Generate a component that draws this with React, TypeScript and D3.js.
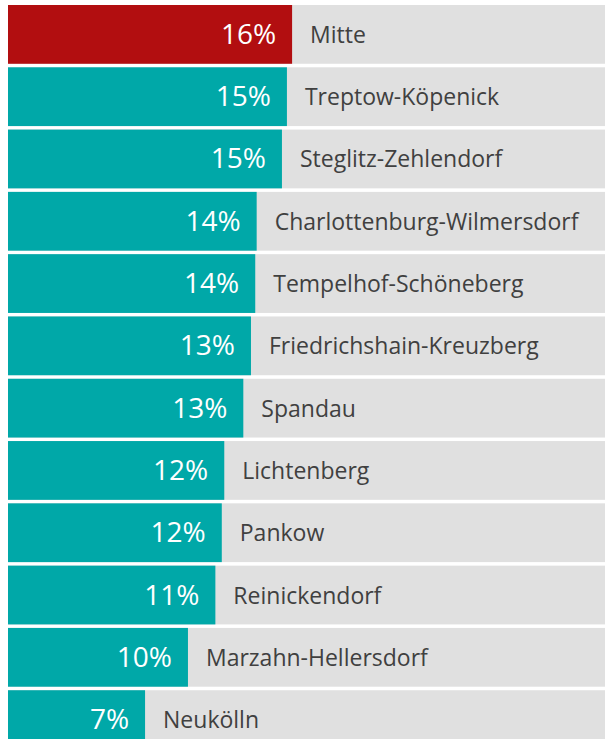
import React from "react";
import * as d3 from "d3";

const districts = [
  "Mitte",
  "Treptow-Köpenick",
  "Steglitz-Zehlendorf",
  "Charlottenburg-Wilmersdorf",
  "Tempelhof-Schöneberg",
  "Friedrichshain-Kreuzberg",
  "Spandau",
  "Lichtenberg",
  "Pankow",
  "Reinickendorf",
  "Marzahn-Hellersdorf",
  "Neukölln",
];
const values = [15.96, 15.67, 15.39, 13.97, 13.89, 13.65, 13.22, 12.15, 12.01, 11.65, 10.11, 7.7];
const valueLabels = ["16%", "15%", "15%", "14%", "14%", "13%", "13%", "12%", "12%", "11%", "10%", "7%"];

const W = 605;
const H = 739;

export default function App() {
  const x = d3.scaleLinear().domain([0, 16]).range([8, 8 + 284.8]);
  const y = d3
    .scaleBand<string>()
    .domain(districts)
    .range([5, 5 + 62 * districts.length])
    .paddingInner(3.5 / 62)
    .paddingOuter(0);
  const bh = y.bandwidth();
  return (
    <svg
      width={W}
      height={H}
      style={{ position: "absolute", left: 0, top: 0, background: "#ffffff" }}
    >
      {districts.map((d, i) => {
        const y0 = y(d) as number;
        const cy = y0 + bh / 2;
        const xe = x(values[i]);
        return (
          <g key={d}>
            <rect x={x(0)} y={y0} width={W - x(0) + 10} height={bh} fill="#e0e0e0" />
            <rect x={x(0)} y={y0} width={xe - x(0)} height={bh} fill={i === 0 ? "#b20e10" : "#00a8a8"} />
            <text
              x={xe - 16}
              y={cy + 9.5}
              textAnchor="end"
              fill="#ffffff"
              fontFamily="'Open Sans', sans-serif"
              fontSize={28}
            >
              {valueLabels[i]}
            </text>
            <text
              x={xe + 18}
              y={cy + 8.5}
              textAnchor="start"
              fill="#404040"
              fontFamily="'Open Sans', sans-serif"
              fontSize={23}
            >
              {d}
            </text>
          </g>
        );
      })}
    </svg>
  );
}
